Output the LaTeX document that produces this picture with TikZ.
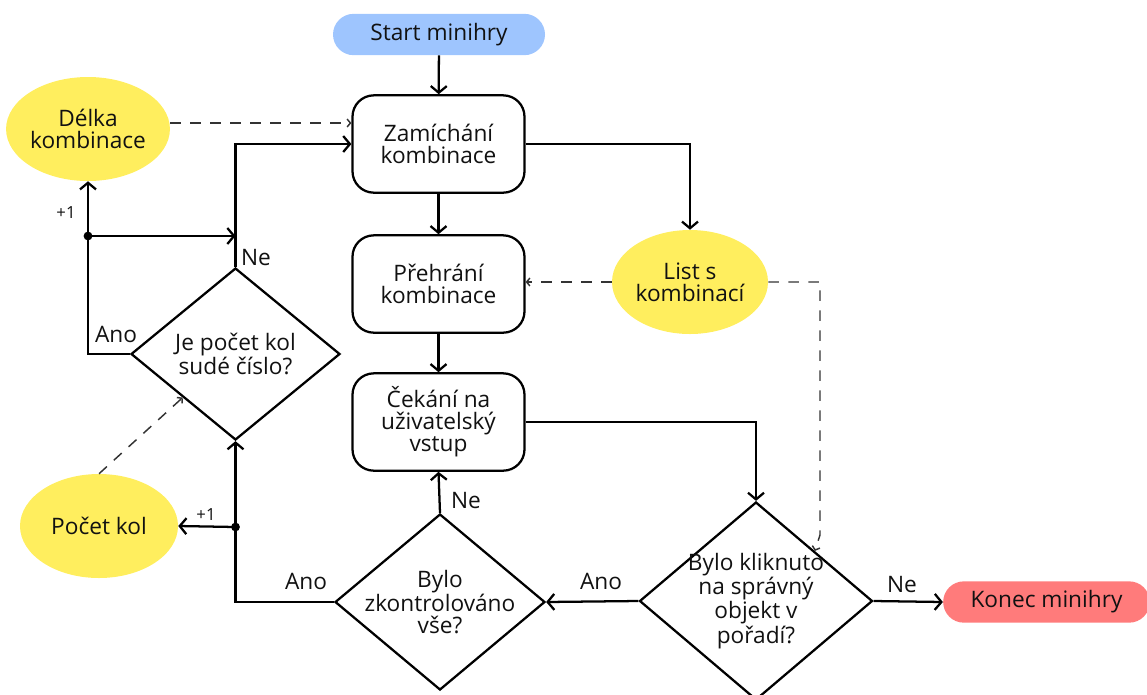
\documentclass[tikz,border=0pt]{standalone}
\usepackage{fontspec}
\setmainfont{Open Sans}
\usetikzlibrary{shapes.geometric,arrows.meta}
\definecolor{ylw}{HTML}{FFEE5E}
\definecolor{blu}{HTML}{9EC5FE}
\definecolor{rd}{HTML}{FF7B7B}
\definecolor{txt}{HTML}{111111}
\begin{document}
\begin{tikzpicture}[x=0.75pt,y=-0.75pt,
  every node/.style={font=\fontsize{17}{16.5}\selectfont, text=txt},
  proc/.style={draw, line width=1.7pt, rounded corners=16pt, minimum width=129pt, minimum height=73pt, align=center, inner sep=0pt},
  term/.style={rounded corners=15.5pt, minimum height=31pt, inner sep=0pt},
  dat/.style={ellipse, fill=ylw, minimum width=117pt, minimum height=78pt, align=center, inner sep=0pt},
  dia/.style={diamond, draw, line width=1.7pt, inner sep=0pt, aspect=1},
  dtext/.style={align=center, inner sep=0pt},
  flow/.style={line width=1.7pt, -{Straight Barb[length=5pt,width=12pt]}},
  data/.style={line width=1.1pt, black!80, dash pattern=on 8pt off 7pt, -{Straight Barb[length=2.5pt,width=6pt]}},
  lbl/.style={inner sep=0pt},
  small/.style={inner sep=0pt, font=\fontsize{12.5}{13}\selectfont}
]
\path[use as bounding box] (0,0) rectangle (1147,694);

% terminals
\node[term, fill=blu, minimum width=159pt] (start) at (439,34.5) {Start minihry};
\node[term, fill=rd, minimum width=155pt] (konec) at (1046.5,602) {Konec minihry};

% processes
\node[proc] (zam) at (438.5,144) {Zamíchání\\kombinace};
\node[proc] (preh) at (438.5,284) {Přehrání\\kombinace};
\node[proc] (cek) at (438.5,422) {Čekání na\\uživatelský\\vstup};

% data ellipses
\node[dat] (del) at (88,129) {Délka\\kombinace};
\node[dat] (list) at (690,282) {List s\\kombinací};
\node[dat, minimum width=118.5pt] (pk) at (99,526) {Počet kol};

% decisions
\node[dia, minimum width=156.75pt, minimum height=129pt] (jp) at (235.5,354) {};
\node[dtext] (jpt) at (jp.center) {Je počet kol\\sudé číslo?};
\node[dia, minimum width=157.5pt, minimum height=132pt] (zk) at (440,602) {};
\node[dtext] (zkt) at (zk.center) {Bylo\\zkontrolováno\\vše?};
\node[dia, minimum width=174.75pt, minimum height=148.5pt] (kl) at (756,601) {};
\node[dtext] (klt) at (kl.center) {Bylo kliknuto\\na správný\\objekt v\\pořadí?};

% junction points
\coordinate (dot1) at (88,236);
\coordinate (dot2) at (235.5,527);
\coordinate (lsbend) at (820,535);

% main flow
\draw[flow] (start) -- (zam);
\draw[flow] (zam) -- (preh);
\draw[flow] (preh) -- (cek);
\draw[flow] (zam.east) -| (list.north);
\draw[flow] (cek.east) -| (kl.north);
\draw[flow] (kl.west) -- (zk.east);
\draw[flow] (kl.east) -- (konec.west);
\draw[flow] (zk.north) -- (cek.south);
\draw[flow] (jp.north) |- (zam.west);
\draw[flow] (jp.west) -| (del.south);
\draw[flow] (dot1) -- (jp.north |- dot1);
\draw[flow] (zk.west) -| (jp.south);
\draw[flow] (dot2) -- (pk.east);
\fill (dot1) circle (3.3pt);
\fill (dot2) circle (3.3pt);

% data flows
\draw[data] ([yshift=4.5pt]del.east) -- ([yshift=4.5pt]del.east -| zam.west);
\draw[data] (list.west) -- (list.west -| preh.east);
\draw[data] (list.east) -| (lsbend) -- (kl.north east);
\draw[data] (pk.north) -- (jp.south west);

% labels
\node[lbl] (l1) at (256,258) {Ne};
\node[lbl] (l2) at (116,334) {Ano};
\node[small] (l3) at (66,213) {+1};
\node[small] (l4) at (206,515) {+1};
\node[lbl] (l5) at (306,581) {Ano};
\node[lbl] (l6) at (466,501) {Ne};
\node[lbl] (l7) at (601,581) {Ano};
\node[lbl] (l8) at (902,585) {Ne};
\end{tikzpicture}
\end{document}
